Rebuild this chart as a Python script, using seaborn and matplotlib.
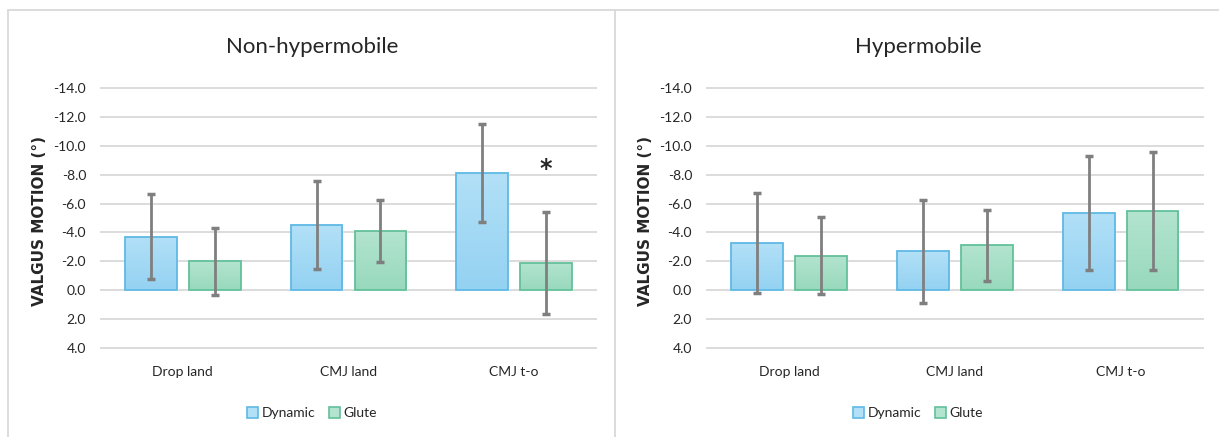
# two-panel bar chart of valgus motion, dynamic vs glute warm-up
import numpy as np
import pandas as pd
import matplotlib
matplotlib.use('Agg')
import matplotlib.pyplot as plt
from matplotlib.lines import Line2D
from matplotlib.patches import Patch, Rectangle
from matplotlib.ticker import FormatStrFormatter, MultipleLocator
import seaborn as sns

# data
phases = ['Drop land', 'CMJ land', 'CMJ t-o']
groups = ['Dynamic', 'Glute']

non_dynamic = [-3.7, -4.5, -8.1]
non_dynamic_sd = [2.95, 3.05, 3.4]
non_glute = [-2.0, -4.1, -1.9]
non_glute_sd = [2.3, 2.15, 3.55]

hyp_dynamic = [-3.25, -2.7, -5.35]
hyp_dynamic_sd = [3.45, 3.55, 3.95]
hyp_glute = [-2.4, -3.1, -5.5]
hyp_glute_sd = [2.67, 2.45, 4.1]

# significance mark in the non-hypermobile panel (CMJ t-o, glute)
star_value = -8.4

sns.set_style('white')
plt.rcParams['font.family'] = ['Lato', 'DejaVu Sans']
plt.rcParams['axes.unicode_minus'] = False

fill_top = {'Dynamic': '#b2e0f7', 'Glute': '#b3e4cf'}
fill_bottom = {'Dynamic': '#94d2f2', 'Glute': '#98d9bd'}
edge_col = {'Dynamic': '#5fb9e5', 'Glute': '#62c09b'}

W, H = 1219, 437
fig = plt.figure(figsize=(W / 100, H / 100), dpi=100)

# panel frames
frame = '#d9d9d9'
top = 1 - 10 / H
fig.add_artist(Line2D([8 / W, 1], [top, top], color=frame, lw=1.3))
fig.add_artist(Line2D([8 / W, 8 / W], [0, top], color=frame, lw=1.3))
fig.add_artist(Line2D([615 / W, 615 / W], [0, top], color=frame, lw=1.3))

px_unit = 260 / 18
pad = 0.1
ax_bottom = 1 - (348 + pad * px_unit) / H
ax_height = (260 + 2 * pad * px_unit) / H


def draw_panel(left, width, dyn, dyn_sd, glu, glu_sd, title, title_x):
    ax = fig.add_axes([left / W, ax_bottom, width / W, ax_height])
    df = pd.DataFrame({
        'phase': phases * 2,
        'group': ['Dynamic'] * 3 + ['Glute'] * 3,
        'value': dyn + glu,
    })
    sns.barplot(data=df, x='phase', y='value', hue='group', order=phases,
                hue_order=groups, palette=fill_bottom, width=0.77, gap=0.19,
                errorbar=None, legend=False, ax=ax, zorder=2)

    sds = {'Dynamic': dyn_sd, 'Glute': glu_sd}
    centers = {}
    for grp, cont in zip(groups, ax.containers):
        xs = []
        for bar, sd in zip(cont, sds[grp]):
            x0 = bar.get_x()
            w = bar.get_width()
            h = bar.get_height()
            xs.append(x0 + w / 2)
            # vertical gradient clipped to the bar
            grad = np.linspace(0, 1, 64).reshape(-1, 1)
            c0 = np.array(matplotlib.colors.to_rgb(fill_top[grp]))
            c1 = np.array(matplotlib.colors.to_rgb(fill_bottom[grp]))
            img = c0 + (c1 - c0) * grad[..., None]
            im = ax.imshow(img, extent=[x0, x0 + w, 0, h], origin='upper',
                           aspect='auto', zorder=2.1, interpolation='bilinear')
            im.set_clip_path(bar)
            ax.add_patch(Rectangle((x0, 0), w, h, fill=False,
                                   edgecolor=edge_col[grp], lw=1.3, zorder=2.2))
            ax.errorbar(x0 + w / 2, h, yerr=sd, color='#7f7f7f', lw=2,
                        capsize=3, capthick=2.5, zorder=3)
        centers[grp] = xs

    ax.set_xlim(-0.5, 2.5)
    ax.set_ylim(4 + pad, -14 - pad)
    ax.yaxis.set_major_locator(MultipleLocator(2))
    ax.yaxis.set_major_formatter(FormatStrFormatter('%.1f'))
    ax.yaxis.grid(True, color='#d9d9d9', lw=1.3)
    ax.set_axisbelow(True)
    for s in ax.spines.values():
        s.set_visible(False)
    ax.tick_params(axis='both', length=0, labelsize=10, colors='#262626')
    ax.tick_params(axis='y', pad=10)
    ax.tick_params(axis='x', pad=12)
    ax.set_xlabel('')
    ax.set_ylabel('VALGUS MOTION (°)', fontsize=11, fontweight='bold',
                  family='DejaVu Sans', color='#262626')
    ax.yaxis.set_label_coords(-0.107, 0.49)

    fig.text(title_x / W, 1 - 47 / H, title, ha='center', va='center',
             fontsize=16, color='#262626')
    handles = [Patch(facecolor=fill_top[g], edgecolor=edge_col[g], lw=1.2)
               for g in groups]
    fig.legend(handles, groups, loc='center', ncol=2, frameon=False,
               bbox_to_anchor=(title_x / W, 1 - 413 / H), fontsize=10,
               handlelength=0.8, handleheight=0.8, handletextpad=0.25,
               columnspacing=1.0, labelcolor='#262626')
    return ax, centers


ax1, c1 = draw_panel(100, 497, non_dynamic, non_dynamic_sd, non_glute,
                     non_glute_sd, 'Non-hypermobile', 312)
ax1.text(c1['Glute'][2], star_value, '*', ha='center', va='center',
         fontsize=17, fontweight='bold', family='DejaVu Sans', color='#262626')

ax2, c2 = draw_panel(706, 497.5, hyp_dynamic, hyp_dynamic_sd, hyp_glute,
                     hyp_glute_sd, 'Hypermobile', 918)

fig.savefig('out.png', dpi=100)
